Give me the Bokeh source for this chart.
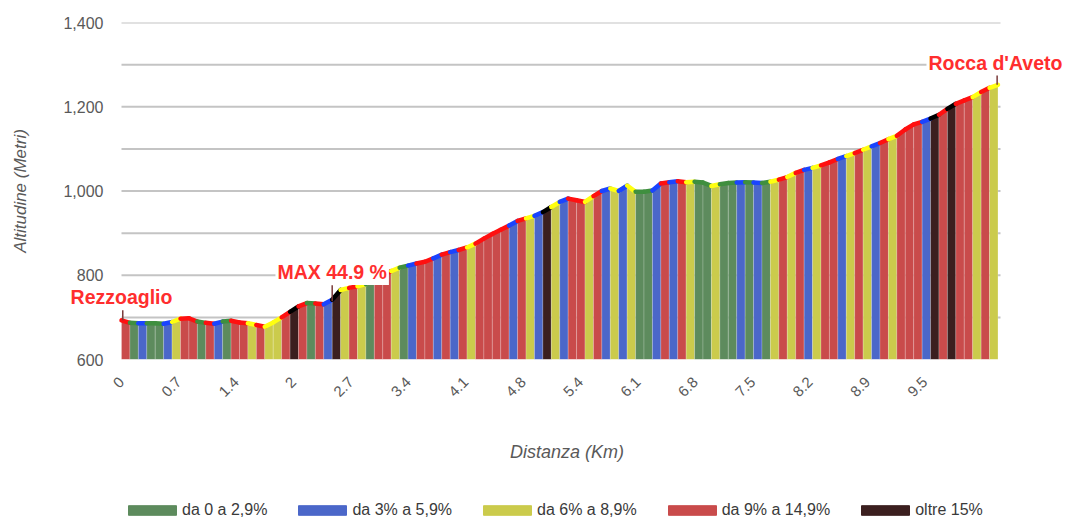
import math
from bokeh.plotting import figure
from bokeh.layouts import column
from bokeh.models import (Range1d, FixedTicker, Label, Legend, LegendItem,
                          ColumnDataSource, NumeralTickFormatter)
from bokeh.embed import file_html
from bokeh.resources import INLINE

# ---------------- data ----------------
distance_km = [0.0, 0.1, 0.2, 0.3, 0.4, 0.5, 0.6, 0.7, 0.8, 0.9,
               1.0, 1.1, 1.2, 1.3, 1.4, 1.5, 1.6, 1.7, 1.8, 1.9,
               2.0, 2.1, 2.2, 2.3, 2.4, 2.5, 2.6, 2.7, 2.8, 2.9,
               3.0, 3.1, 3.2, 3.3, 3.4, 3.5, 3.6, 3.7, 3.8, 3.9,
               4.0, 4.1, 4.2, 4.3, 4.4, 4.5, 4.6, 4.7, 4.8, 4.9,
               5.0, 5.1, 5.2, 5.3, 5.4, 5.5, 5.6, 5.7, 5.8, 5.9,
               6.0, 6.1, 6.2, 6.3, 6.4, 6.5, 6.6, 6.7, 6.8, 6.9,
               7.0, 7.1, 7.2, 7.3, 7.4, 7.5, 7.6, 7.7, 7.8, 7.9,
               8.0, 8.1, 8.2, 8.3, 8.4, 8.5, 8.6, 8.7, 8.8, 8.9,
               9.0, 9.1, 9.2, 9.3, 9.4, 9.5, 9.6, 9.7, 9.8, 9.9,
               10.0, 10.1, 10.2, 10.3, 10.4]

elevation_m = [693, 687, 686, 686, 686, 685, 689, 697, 698, 690,
               687, 685, 690, 692, 688, 686, 682, 678, 688, 700,
               713, 726, 734, 733, 731, 742, 765, 770, 774, 779,
               790, 800, 810, 818, 823, 828, 832, 840, 849, 855,
               860, 866, 875, 887, 898, 908, 918, 929, 935, 941,
               950, 962, 974, 982, 978, 974, 988, 1000, 1006, 1000,
               1013, 998, 998, 1001, 1018, 1021, 1023, 1021, 1022, 1020,
               1012, 1016, 1019, 1020, 1021, 1020, 1019, 1022, 1027, 1033,
               1043, 1050, 1055, 1061, 1068, 1076, 1083, 1090, 1098, 1106,
               1114, 1123, 1131, 1146, 1158, 1164, 1172, 1181, 1195, 1207,
               1215, 1223, 1235, 1245, 1252]

# gradient class of each 100 m segment (index into categories)
segment_class = [3, 0, 1, 0, 0, 1, 2, 3, 3, 0,
                 3, 1, 0, 3, 3, 2, 3, 2, 2, 3,
                 4, 3, 0, 3, 1, 4, 2, 3, 2, 0,
                 3, 3, 2, 0, 1, 3, 3, 1, 3, 1,
                 3, 2, 3, 3, 3, 3, 1, 3, 2, 1,
                 4, 2, 1, 3, 3, 2, 3, 1, 2, 1,
                 2, 0, 0, 1, 3, 1, 3, 2, 0, 0,
                 2, 0, 0, 1, 0, 1, 0, 2, 3, 2,
                 3, 1, 2, 3, 3, 1, 2, 3, 2, 1,
                 3, 2, 3, 3, 3, 1, 4, 3, 4, 3,
                 3, 2, 3, 2]

categories = ["da 0 a 2,9%", "da 3% a 5,9%", "da 6% a 8,9%", "da 9% a 14,9%", "oltre 15%"]
x_tick_labels = ["0", "0.7", "1.4", "2", "2.7", "3.4", "4.1", "4.8", "5.4",
                 "6.1", "6.8", "7.5", "8.2", "8.9", "9.5"]
y_ticks = [600, 800, 1000, 1200, 1400]
grid_levels = [700, 800, 900, 1000, 1100, 1200, 1300, 1400]

# ---------------- styles ----------------
fill_colors = ["#5d8b5d", "#4b67c9", "#cbcb4c", "#c94b4b", "#3b1f1f"]
edge_colors = ["#3f8f3f", "#1a44ff", "#ffff10", "#ff1010", "#000000"]
GRAY = "#595959"
FONT = "Liberation Sans"
BASE = 600
KM_END = 10.43           # right end of the gridded area
KPP = KM_END / 879.0     # km per pixel
FRAME_LEFT = 63
FRAME_W = 1007

# ---------------- build sources ----------------
xs, ys, fc, x0, y0, x1, y1, ec = [], [], [], [], [], [], [], []
for i, c in enumerate(segment_class):
    d0, d1 = distance_km[i], distance_km[i + 1]
    e0, e1 = elevation_m[i], elevation_m[i + 1]
    xs.append([d0, d0, d1, d1])
    ys.append([BASE, e0, e1, BASE])
    fc.append(fill_colors[c])
    x0.append(d0); y0.append(e0); x1.append(d1); y1.append(e1)
    ec.append(edge_colors[c])

src = ColumnDataSource(dict(xs=xs, ys=ys, fc=fc))
top = ColumnDataSource(dict(x0=x0, y0=y0, x1=x1, y1=y1, ec=ec))

p = figure(frame_width=FRAME_W, frame_height=337,
           x_range=Range1d(-(121 - FRAME_LEFT) * KPP, KM_END + 70 * KPP),
           y_range=Range1d(600, 1400),
           output_backend="svg", toolbar_location=None,
           min_border_left=FRAME_LEFT, min_border_right=0,
           min_border_top=22, min_border_bottom=111)
p.outline_line_color = None
p.background_fill_color = "white"
p.xgrid.visible = False
p.ygrid.visible = False

# horizontal grid lines over the profile's extent
p.segment(x0=[0.0] * len(grid_levels), y0=grid_levels,
          x1=[KM_END] * len(grid_levels), y1=grid_levels,
          line_color="#c4c4c4", line_width=2)

p.patches("xs", "ys", source=src, fill_color="fc", line_color="white",
          line_alpha=0.25, line_width=0.8, fill_alpha=1.0)
p.segment("x0", "y0", "x1", "y1", source=top, line_color="ec",
          line_width=4.5, line_cap="round")

# y axis
p.yaxis.ticker = FixedTicker(ticks=y_ticks)
p.yaxis.formatter = NumeralTickFormatter(format="0,0")
p.yaxis.axis_line_color = None
p.yaxis.major_tick_line_color = None
p.yaxis.major_tick_out = 0
p.yaxis.major_tick_in = 0
p.yaxis.minor_tick_line_color = None
p.yaxis.major_label_text_color = GRAY
p.yaxis.major_label_text_font = FONT
p.yaxis.major_label_text_font_size = "16px"
p.yaxis.major_label_standoff = -40
p.yaxis.axis_label = "Altitudine (Metri)"
p.yaxis.axis_label_text_font = FONT
p.yaxis.axis_label_text_font_style = "italic"
p.yaxis.axis_label_text_font_size = "17px"
p.yaxis.axis_label_text_color = GRAY
p.yaxis.axis_label_standoff = 30

# x axis
step = 0.681
xt = [round(i * step, 4) for i in range(len(x_tick_labels))]
p.xaxis.ticker = FixedTicker(ticks=xt)
p.xaxis.major_label_overrides = {t: lab for t, lab in zip(xt, x_tick_labels)}
p.xaxis.major_label_orientation = math.pi / 4
p.xaxis.axis_line_color = None
p.xaxis.major_tick_line_color = None
p.xaxis.major_tick_out = 0
p.xaxis.major_tick_in = 0
p.xaxis.minor_tick_line_color = None
p.xaxis.major_label_text_color = GRAY
p.xaxis.major_label_text_font = FONT
p.xaxis.major_label_text_font_size = "15px"
p.xaxis.major_label_standoff = 20
p.xaxis.axis_label = "Distanza (Km)"
p.xaxis.axis_label_text_font = FONT
p.xaxis.axis_label_text_font_style = "italic"
p.xaxis.axis_label_text_font_size = "18px"
p.xaxis.axis_label_text_color = GRAY
p.xaxis.axis_label_standoff = 38

# leader lines + place labels
lead = ColumnDataSource(dict(x0=[0.015, 2.50, 10.39], y0=[693, 738, 1252],
                             x1=[0.015, 2.50, 10.39], y1=[726, 776, 1288]))
p.segment("x0", "y0", "x1", "y1", source=lead, line_color="#7a3a3a", line_width=1.5)

places = [(0.0, 748, "Rezzoaglio"), (2.50, 808, "MAX 44.9 %"), (10.37, 1305, "Rocca d'Aveto")]
for px_, py_, t in places:
    p.add_layout(Label(x=px_, y=py_, text=t, text_align="center", text_baseline="middle",
                       text_color="#ff2e2e", text_font=FONT, text_font_style="bold",
                       text_font_size="19.5px", background_fill_color="white",
                       padding=2))

# ---------------- legend strip ----------------
lf = figure(frame_width=FRAME_W, height=49, x_range=Range1d(0, 1), y_range=Range1d(0, 1),
            output_backend="svg", toolbar_location=None,
            min_border_left=FRAME_LEFT, min_border_right=0, min_border_top=0, min_border_bottom=0)
lf.axis.visible = False
lf.grid.visible = False
lf.outline_line_color = None
items = []
for name, f, e in zip(categories, fill_colors, edge_colors):
    r = lf.quad(left=[-5], right=[-4], top=[5], bottom=[4], fill_color=f, line_color=f)
    items.append(LegendItem(label=name, renderers=[r]))
legend = Legend(items=items, orientation="horizontal", location=(59, 0),
                glyph_width=60, glyph_height=12, label_height=14, label_standoff=0, spacing=25,
                label_text_font=FONT, label_text_font_size="16px",
                label_text_color="#3a3a3a", border_line_color=None,
                background_fill_alpha=0, padding=0, margin=0)
lf.add_layout(legend, "center")

layout = column(p, lf, spacing=0)
open("out.html", "w").write(file_html(layout, INLINE))
